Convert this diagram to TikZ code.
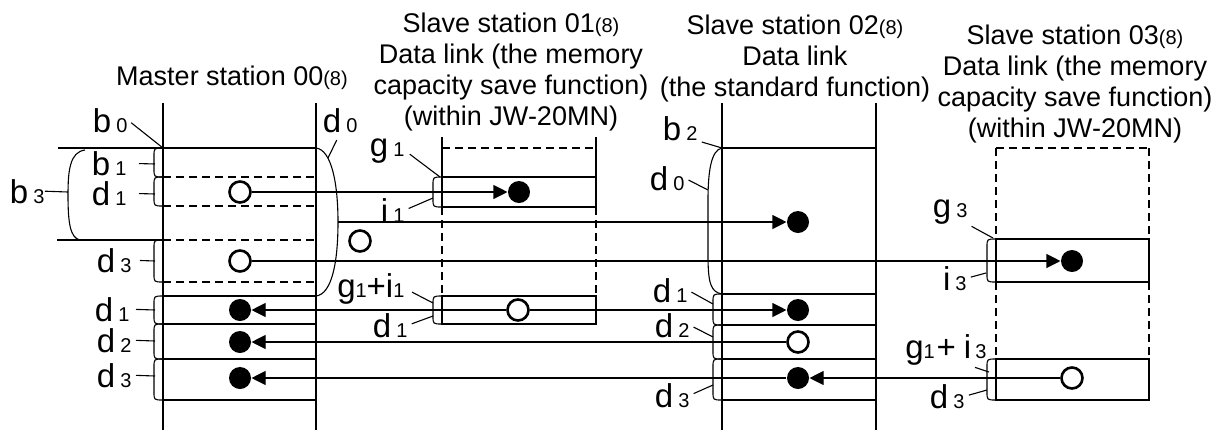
\documentclass[tikz,border=0pt]{standalone}
\usepackage{fontspec}
\setmainfont{Liberation Sans}
\usetikzlibrary{arrows.meta}

\newcommand{\sub}[1]{{\fontsize{10}{10}\selectfont #1}}
\newcommand{\lbl}[2]{#1\hspace{2.5pt}\sub{#2}}
% small bracket on the left of a row, x = edge, from y #2 to y #3
\newcommand{\brk}[3]{\draw ({#1},{#2}) .. controls ({#1-9},{#2}) .. ({#1-9},{#2+8}) -- ({#1-9},{#3-8}) .. controls ({#1-9},{#3}) .. ({#1},{#3});}

\begin{document}
\begin{tikzpicture}[x=0.5pt, y=-0.5pt, line width=0.55pt,
	lab/.style={font=\fontsize{16.5}{17}\selectfont, inner sep=0pt, anchor=base east},
	stationtitle/.style={font=\fontsize{13.5}{15.5}\selectfont, align=center, inner sep=0pt},
	hollow/.style={circle, draw, line width=1.3pt, minimum size=10.5pt, inner sep=0pt, fill=white},
	blob/.style={circle, fill, minimum size=11pt, inner sep=0pt},
	sig/.style={-{Triangle[length=7pt,width=7pt]}},
	leader/.style={shorten <=2pt},
	dsh/.style={dash pattern=on 4pt off 2.5pt}]
	\useasboundingbox (0,0) rectangle (1221,430);

	% master station
	\begin{scope}
		\node[stationtitle, anchor=base] (mtitle) at (232,85) {Master station 00\sub{(8)}};
		\draw (163,103) -- (163,430) (316,103) -- (316,430);
		\draw (58,148) -- (316,148);
		\draw (57,240) -- (163,240);
		\foreach \y in {177,206,240,282} \draw[dsh] (163,\y) -- (316,\y);
		\foreach \y in {296,324,359,400} \draw (163,\y) -- (316,\y);
		\foreach \a/\b in {148/177,177/206,240/282,296/324,324/359,359/400} {\brk{163}{\a}{\b}}
		% b3 and d0 braces
		\draw (85,150) .. controls (70,152) and (68,170) .. (68,195) .. controls (68,222) and (70,238) .. (80,240);
		\draw (316,148) .. controls (332,150) and (338,185) .. (338,222) .. controls (338,262) and (332,294) .. (316,296);
		\coordinate (d0out) at (338,222);
		\node[lab] (b0) at (128,132) {\lbl{b}{0}};
		\node[lab] (b1) at (127,175) {\lbl{b}{1}};
		\node[lab] (d1u) at (127,205) {\lbl{d}{1}};
		\node[lab] (b3) at (45,203) {\lbl{b}{3}};
		\node[lab] (d3u) at (132,272) {\lbl{d}{3}};
		\node[lab] (d1l) at (130,321) {\lbl{d}{1}};
		\node[lab] (d2l) at (132,352) {\lbl{d}{2}};
		\node[lab] (d3l) at (132,387) {\lbl{d}{3}};
		\node[lab] (d0m) at (358,132) {\lbl{d}{0}};
		\draw[leader] (b0.east) -- (163,148);
		\draw[leader, shorten <=6pt] (b1.east) -- (155,164);
		\draw[leader, shorten <=6pt] (d1u.east) -- (155,194);
		\draw (b3.east) -- (68,192);
		\draw[leader, shorten <=4pt] (d3u.east) -- (155,261);
		\draw[leader, shorten <=3pt] (d1l.east) -- (155,310);
		\draw[leader] (d2l.east) -- (155,341);
		\draw[leader] (d3l.east) -- (155,376);
		\draw[leader, shorten <=4pt] (d0m.south) -- (328,158);
		\node[hollow] (m1) at (240,192) {};
		\node[hollow] (m3) at (240,261) {};
		\node[blob] (mr1) at (240,310) {};
		\node[blob] (mr2) at (240,342) {};
		\node[blob] (mr3) at (240,378) {};
		\node[hollow] (spare) at (360,241) {};
	\end{scope}

	% slave station 01
	\begin{scope}
		\node[stationtitle, anchor=north] (s1title) at (511,12) {Slave station 01\sub{(8)}\\Data link (the memory\\capacity save function)\\(within JW-20MN)};
		\draw (442,137) -- (442,207) (596,137) -- (596,207);
		\draw[dsh] (442,148) -- (596,148);
		\draw[dsh] (442,207) -- (442,296) (596,207) -- (596,296);
		\draw (442,177) rectangle (596,207);
		\draw (442,296) rectangle (596,324);
		\brk{442}{177}{207}
		\brk{442}{296}{324}
		\node[lab] (g1) at (405,156) {\lbl{g}{1}};
		\node[lab] (i1) at (405,222) {\lbl{i}{1}};
		\node[lab] (g1i1) at (405,297) {g\sub{1}+i\sub{1}};
		\node[lab] (d1s) at (408,337) {\lbl{d}{1}};
		\draw[leader, shorten <=3pt] (g1.east) -- (440,177);
		\draw[leader] (i1.east) -- (433,198);
		\draw[leader, shorten <=4pt] (g1i1.east) -- (433,303);
		\draw[leader] (d1s.east) -- (433,316);
		\node[blob] (s1in) at (519,192) {};
		\node[hollow] (s1out) at (518,310) {};
	\end{scope}

	% slave station 02
	\begin{scope}
		\node[stationtitle, anchor=north] (s2title) at (795,14) {Slave station 02\sub{(8)}\\Data link\\(the standard function)};
		\draw (722,103) -- (722,430) (876,103) -- (876,430);
		\foreach \y in {148,294,325,359,400} \draw (722,\y) -- (876,\y);
		\draw (722,148) .. controls (711,150) and (708,172) .. (708,200) -- (708,255) .. controls (708,284) and (711,292) .. (722,294);
		\foreach \a/\b in {294/325,325/359,359/400} {\brk{722}{\a}{\b}}
		\node[lab] (b2) at (698,140) {\lbl{b}{2}};
		\node[lab] (d0s) at (685,190) {\lbl{d}{0}};
		\node[lab] (d1t) at (688,302) {\lbl{d}{1}};
		\node[lab] (d2t) at (690,337) {\lbl{d}{2}};
		\node[lab] (d3t) at (690,407) {\lbl{d}{3}};
		\draw[leader] (b2.south east) -- (722,148);
		\draw[leader] (d0s.east) -- (708,190);
		\draw[leader] (d1t.east) -- (713,304);
		\draw[leader] (d2t.east) -- (713,337);
		\draw[leader] (d3t.east) -- (713,385);
		\node[blob] (s2a) at (798,222) {};
		\node[blob] (s2b) at (798,310) {};
		\node[hollow] (s2c) at (798,342) {};
		\node[blob] (s2d) at (798,378) {};
	\end{scope}

	% slave station 03
	\begin{scope}
		\node[stationtitle, anchor=north] (s3title) at (1075,24) {Slave station 03\sub{(8)}\\Data link (the memory\\capacity save function)\\(within JW-20MN)};
		\draw[dsh] (996,148) -- (1149,148);
		\draw[dsh] (996,148) -- (996,239) (1149,148) -- (1149,239) (996,282) -- (996,359) (1149,282) -- (1149,359);
		\draw (996,239) rectangle (1149,282);
		\draw (996,359) rectangle (1149,400);
		\brk{996}{239}{282}
		\brk{996}{359}{400}
		\node[lab] (g3) at (968,217) {\lbl{g}{3}};
		\node[lab] (i3) at (967,290) {\lbl{i}{3}};
		\node[lab] (g1i3) at (987,358) {g\sub{1}\hspace{1pt}+\hspace{4pt}i\hspace{2pt}\sub{3}};
		\node[lab] (d3s) at (965,408) {\lbl{d}{3}};
		\draw[leader] (g3.south east) -- (993,238);
		\draw[leader] (i3.east) -- (986,273);
		\draw ([xshift=-6pt, yshift=-1pt]g1i3.south east) -- (989,372);
		\draw[leader] (d3s.east) -- (987,390);
		\node[blob] (s3in) at (1072,261) {};
		\node[hollow] (s3out) at (1072,378) {};
	\end{scope}

	% data flow
	\draw[sig] (m1) -- (s1in);
	\draw[sig] (d0out) -- (s2a);
	\draw[sig] (m3) -- (s3in);
	\draw[sig] (s1out) -- (mr1);
	\draw[sig] (s1out) -- (s2b);
	\draw[sig] (s2c) -- (mr2);
	\draw[sig] (s3out) -- (s2d);
	\draw[sig] (s2d) -- (mr3);
\end{tikzpicture}
\end{document}
